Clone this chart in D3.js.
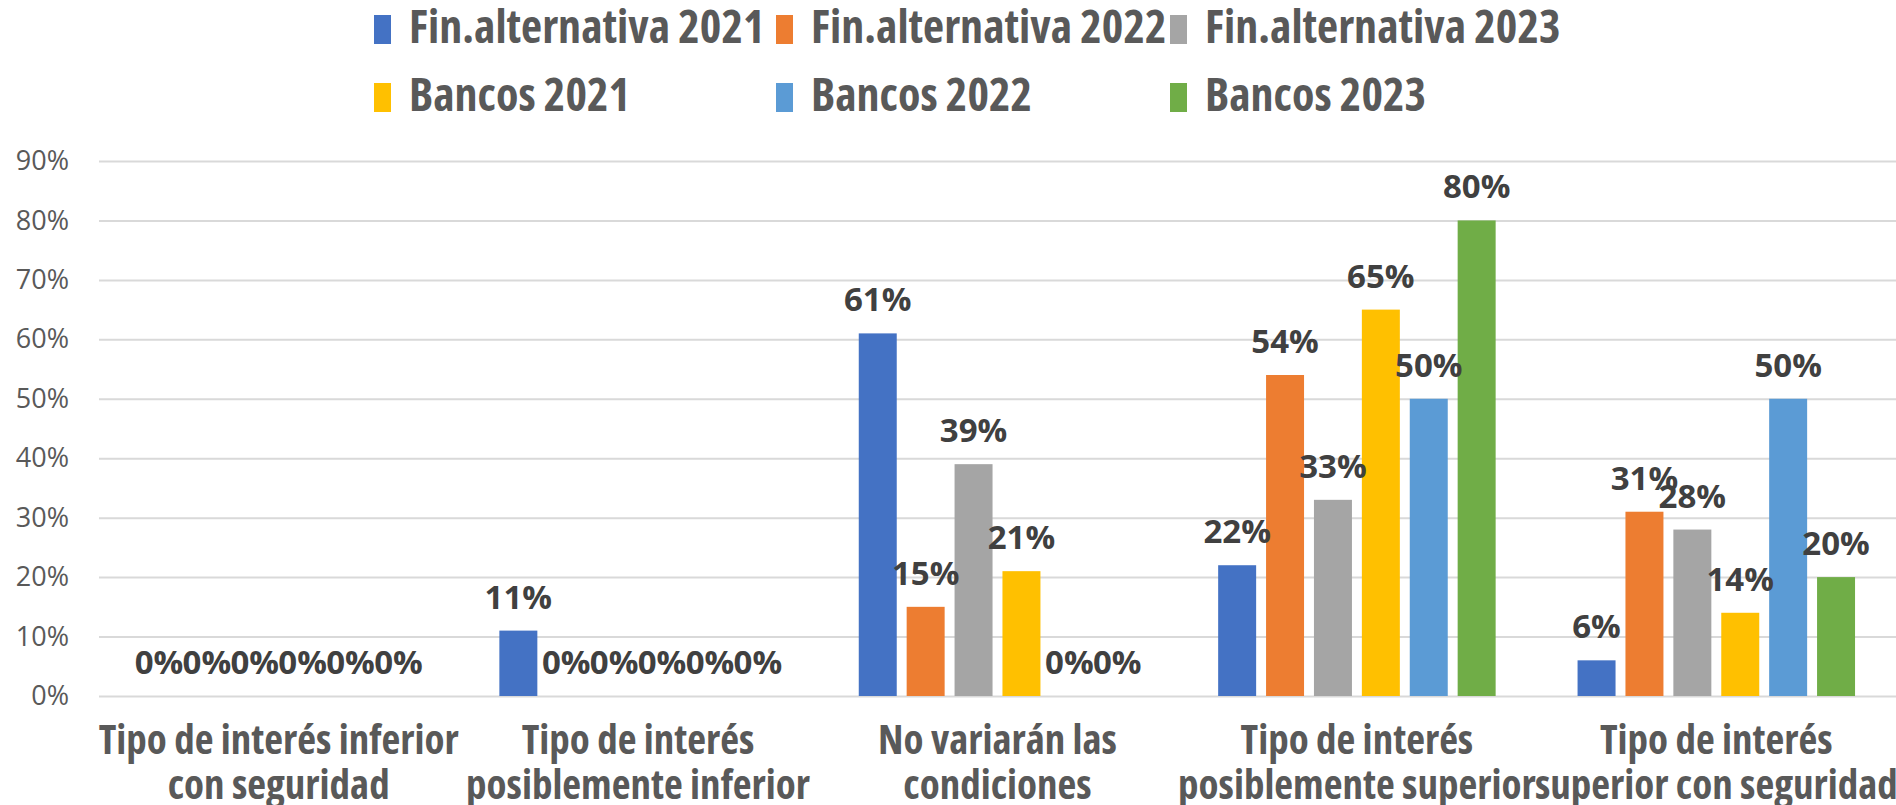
<!DOCTYPE html>
<html>
<head>
<meta charset="utf-8">
<script src="https://cdn.jsdelivr.net/npm/d3@7"></script>
<style>
  html, body { margin: 0; padding: 0; background: #fff; overflow: hidden; }
</style>
</head>
<body>
<div id="chart"></div>
<script>
const categoryLines = [
  ["Tipo de interés inferior", "con seguridad"],
  ["Tipo de interés", "posiblemente inferior"],
  ["No variarán las", "condiciones"],
  ["Tipo de interés", "posiblemente superior"],
  ["Tipo de interés", "superior con seguridad"]
];
const categories = categoryLines.map(l => l.join(" "));

const seriesNames = [
  "Fin.alternativa 2021",
  "Fin.alternativa 2022",
  "Fin.alternativa 2023",
  "Bancos 2021",
  "Bancos 2022",
  "Bancos 2023"
];
const seriesColors = ["#4472c4", "#ed7d31", "#a5a5a5", "#ffc000", "#5b9bd5", "#70ad47"];

const finAlt2021 = [0, 0.11, 0.61, 0.22, 0.06];
const finAlt2022 = [0, 0, 0.15, 0.54, 0.31];
const finAlt2023 = [0, 0, 0.39, 0.33, 0.28];
const bancos2021 = [0, 0, 0.21, 0.65, 0.14];
const bancos2022 = [0, 0, 0, 0.50, 0.50];
const bancos2023 = [0, 0, 0, 0.80, 0.20];
const seriesValues = [finAlt2021, finAlt2022, finAlt2023, bancos2021, bancos2022, bancos2023];

const yTicks = [0, 0.1, 0.2, 0.3, 0.4, 0.5, 0.6, 0.7, 0.8, 0.9];

const w = 1896;
const h = 805;
const plotLeft = 99;
const plotRight = 1896;
const plotTop = 161;
const plotBottom = 696;

const regular = "'Open Sans', 'Noto Sans', sans-serif";

const svg = d3.select("#chart")
  .append("svg")
  .attr("width", w)
  .attr("height", h);

const y = d3.scaleLinear().domain([0, 0.9]).range([plotBottom, plotTop]);
const x0 = d3.scaleBand().domain(categories).range([plotLeft, plotRight]).padding(0);
const inset = 36;
const x1 = d3.scaleBand()
  .domain(seriesNames)
  .range([inset, x0.bandwidth() - inset])
  .paddingInner(0.207)
  .paddingOuter(0.1035);

// gridlines
const grid = svg.append("g")
  .attr("transform", "translate(" + plotLeft + ",0)")
  .call(d3.axisLeft(y).tickValues(yTicks).tickSize(-(plotRight - plotLeft)).tickFormat(""));
grid.select(".domain").remove();
grid.selectAll("line").attr("stroke", "#d9d9d9").attr("stroke-width", 2);

// y axis labels
const yAxis = svg.append("g")
  .attr("transform", "translate(" + plotLeft + ",0)")
  .call(d3.axisLeft(y).tickValues(yTicks).tickSize(0).tickPadding(30).tickFormat(d3.format(".0%")));
yAxis.select(".domain").remove();
yAxis.selectAll("text")
  .attr("fill", "#595959")
  .style("font-family", regular)
  .style("font-size", "27px");

// bars
const rows = categories.map((c, i) => ({
  cat: c,
  values: seriesNames.map((s, j) => ({ series: s, value: seriesValues[j][i], color: seriesColors[j] }))
}));

const groups = svg.append("g")
  .selectAll("g")
  .data(rows)
  .enter()
  .append("g")
  .attr("transform", d => "translate(" + x0(d.cat) + ",0)");

groups.selectAll("rect")
  .data(d => d.values)
  .enter()
  .append("rect")
  .attr("x", d => x1(d.series))
  .attr("y", d => y(d.value))
  .attr("width", x1.bandwidth())
  .attr("height", d => y(0) - y(d.value))
  .attr("fill", d => d.color);

groups.selectAll("text")
  .data(d => d.values)
  .enter()
  .append("text")
  .attr("x", d => x1(d.series) + x1.bandwidth() / 2)
  .attr("y", d => y(d.value) - 22)
  .attr("text-anchor", "middle")
  .attr("fill", "#404040")
  .style("font-family", regular)
  .style("font-weight", "bold")
  .style("font-size", "33px")
  .text(d => d3.format(".0%")(d.value));

// category labels (condensed bold, like the original)
const catLabels = svg.append("g")
  .selectAll("text")
  .data(categoryLines)
  .enter()
  .append("text")
  .attr("text-anchor", "middle")
  .attr("fill", "#595959")
  .style("font-family", regular)
  .style("font-stretch", "87.5%")
  .style("font-weight", "bold")
  .style("font-size", "41px");

catLabels.selectAll("tspan")
  .data((d, i) => d.map(line => ({ line: line, x: x0(categories[i]) + x0.bandwidth() / 2 })))
  .enter()
  .append("tspan")
  .attr("x", d => d.x)
  .attr("y", (d, i) => 754 + i * 45)
  .text(d => d.line);

// legend
const legendX = [374, 776, 1170];
const legendY = [43, 111];
const legend = svg.append("g")
  .selectAll("g")
  .data(seriesNames)
  .enter()
  .append("g")
  .attr("transform", (d, i) => "translate(" + legendX[i % 3] + "," + legendY[Math.floor(i / 3)] + ")");

legend.append("rect")
  .attr("x", 0)
  .attr("y", -28)
  .attr("width", 17)
  .attr("height", 29)
  .attr("fill", (d, i) => seriesColors[i]);

legend.append("text")
  .attr("x", 35)
  .attr("y", 0)
  .attr("fill", "#595959")
  .style("font-family", regular)
  .style("font-stretch", "87.5%")
  .style("font-weight", "bold")
  .style("font-size", "46px")
  .text(d => d);
</script>
</body>
</html>
